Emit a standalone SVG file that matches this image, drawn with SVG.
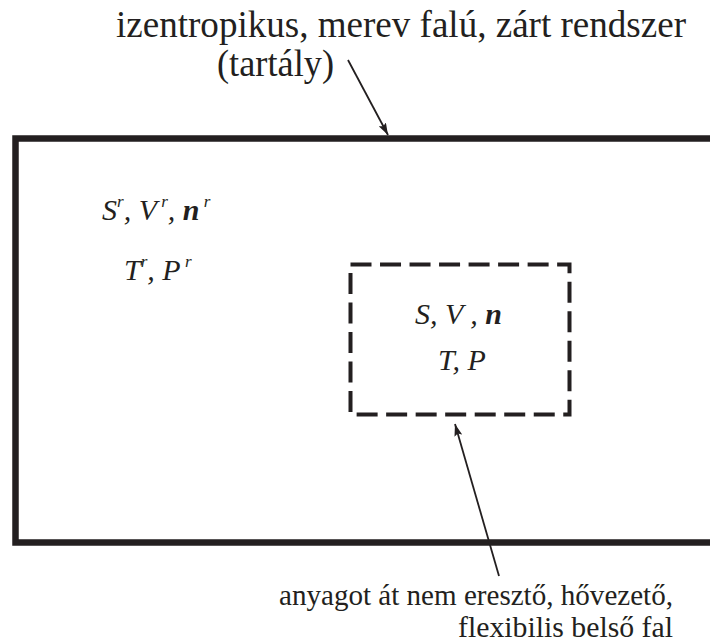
<svg xmlns="http://www.w3.org/2000/svg" width="710" height="642" viewBox="0 0 710 642">
<style>
.m{font-style:italic;font-size:30px}
.b{font-weight:bold}
.sup{font-size:17px}
.conn{stroke:#231f20;stroke-width:1.8;fill:none}
</style>
<defs>
<marker id="ah" viewBox="0 0 12 8" refX="12" refY="4" markerWidth="12" markerHeight="8" markerUnits="userSpaceOnUse" orient="auto">
<path d="M0,0 L12,4 L0,8 L2,4 Z" fill="#231f20"/>
</marker>
</defs>
<rect width="710" height="642" fill="#fff"/>
<g id="tank">
<path d="M715,138.5 H15.5 V542.5 H715" fill="none" stroke="#231f20" stroke-width="6.5"/>
</g>
<g id="inner">
<path d="M350.5,264.5 H569.5 V414.5 H350.5 Z" fill="none" stroke="#231f20" stroke-width="4" stroke-dasharray="21 8.52"/>
</g>
<g fill="#231f20">
<g id="labels-outer">
<text class="m" font-family="Liberation Serif" x="102" y="220">S<tspan class="sup" dy="-13">r</tspan><tspan dy="13">, V</tspan><tspan class="sup" dy="-13"> r</tspan><tspan dy="13">, </tspan><tspan class="b">n</tspan><tspan class="sup" dy="-13"> r</tspan></text>
<text class="m" font-family="Liberation Serif" x="124" y="280">T<tspan class="sup" dy="-13">r</tspan><tspan dy="13">, P</tspan><tspan class="sup" dy="-13"> r</tspan></text>
</g>
<g id="labels-inner">
<text class="m" font-family="Liberation Serif" x="415" y="324">S<tspan>, V</tspan><tspan> , </tspan><tspan class="b">n</tspan></text>
<text class="m" font-family="Liberation Serif" x="438" y="370">T, P</text>
</g>
<g id="caption-top">
<text font-family="Liberation Serif" x="116" y="37" font-size="37" textLength="570" lengthAdjust="spacingAndGlyphs">izentropikus, merev falú, zárt rendszer</text>
<text font-family="Liberation Serif" x="217" y="76" font-size="37" textLength="117" lengthAdjust="spacingAndGlyphs">(tartály)</text>
</g>
<g id="caption-bottom">
<text font-family="Liberation Serif" x="279" y="605" font-size="29" textLength="394" lengthAdjust="spacingAndGlyphs">anyagot át nem eresztő, hővezető,</text>
<text font-family="Liberation Serif" x="458" y="637" font-size="29" textLength="215" lengthAdjust="spacingAndGlyphs">flexibilis belső fal</text>
</g>
</g>
<g id="connectors">
<line class="conn" x1="348" y1="60" x2="388" y2="135" marker-end="url(#ah)"/>
<line class="conn" x1="499" y1="576" x2="455" y2="424" marker-end="url(#ah)"/>
</g>
</svg>
